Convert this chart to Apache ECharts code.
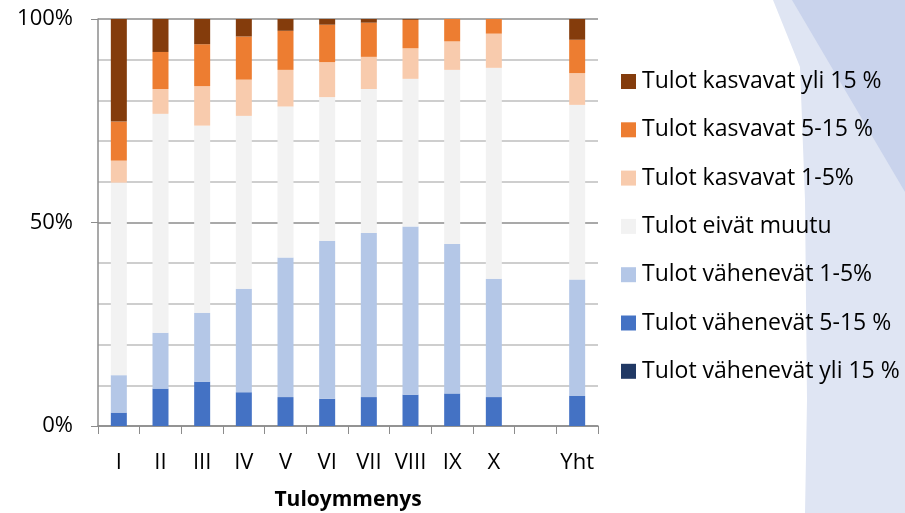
<!DOCTYPE html>
<html>
	<head>
		<meta charset="UTF-8">
		<title>Tuloymmenys</title>
		<script src="https://cdn.jsdelivr.net/npm/echarts@6/dist/echarts.min.js"></script>
		<style>
			html, body { margin: 0; padding: 0; background: #fff; }
		</style>
	</head>
	<body>
		<div id="bar" style="width:905px; height:513px;"></div>
		<script>
			var categories = ['I', 'II', 'III', 'IV', 'V', 'VI', 'VII', 'VIII', 'IX', 'X', '', 'Yht'];

			// osuudet (%) alhaalta ylos
			var vahenevatYli15 = [0, 0, 0, 0, 0, 0, 0, 0, 0, 0, null, 0];
			var vahenevat5_15 = [3.3, 9.2, 10.9, 8.3, 7.1, 6.7, 7.1, 7.7, 8.0, 7.1, null, 7.4];
			var vahenevat1_5 = [9.2, 13.7, 16.9, 25.4, 34.3, 38.8, 40.3, 41.3, 36.7, 29.1, null, 28.6];
			var eivatMuutu = [47.3, 53.8, 46.0, 42.5, 37.1, 35.3, 35.4, 36.3, 42.8, 51.8, null, 42.9];
			var kasvavat1_5 = [5.4, 6.1, 9.7, 8.9, 9.0, 8.6, 7.9, 7.5, 7.0, 8.4, null, 7.8];
			var kasvavat5_15 = [9.6, 9.1, 10.3, 10.6, 9.6, 9.2, 8.4, 7.0, 5.5, 3.6, null, 8.2];
			var kasvavatYli15 = [25.2, 8.1, 6.2, 4.3, 2.9, 1.4, 0.9, 0.2, 0, 0, null, 5.1];

			var yTicks = [0, 50, 100];

			var font = '"Open Sans", sans-serif';

			function bar(name, data, color) {
				return {
					name: name,
					type: 'bar',
					stack: 'all',
					barWidth: 16,
					data: data,
					itemStyle: { color: color }
				};
			}

			var chart = echarts.init(document.getElementById('bar'), null, { renderer: 'canvas' });

			chart.setOption({
				animation: false,
				textStyle: { fontFamily: font },
				graphic: [
					{
						type: 'polygon', z: 0, silent: true,
						shape: { points: [[773, 0], [905, 0], [905, 513], [805, 513], [807, 400], [805, 200], [800, 67]] },
						style: { fill: '#dfe5f3' }
					},
					{
						type: 'polygon', z: 0, silent: true,
						shape: { points: [[792, 0], [905, 0], [905, 192]] },
						style: { fill: '#c9d3ec' }
					}
				],
				grid: { left: 98, right: 307, top: 19, bottom: 87, containLabel: false, outerBoundsMode: 'none' },
				legend: {
					orient: 'vertical',
					left: 616,
					top: 65,
					itemWidth: 15,
					itemHeight: 15,
					itemGap: 25.3,
					icon: 'rect',
					data: ['Tulot kasvavat yli 15 %', 'Tulot kasvavat 5-15 %', 'Tulot kasvavat 1-5%',
						'Tulot eivät muutu', 'Tulot vähenevät 1-5%', 'Tulot vähenevät 5-15 %', 'Tulot vähenevät yli 15 %'],
					textStyle: { fontFamily: font, fontSize: 23, color: '#000', lineHeight: 22, padding: [0, 0, 0, 1] }
				},
				xAxis: {
					type: 'category',
					data: categories,
					name: 'Tuloymmenys',
					nameLocation: 'middle',
					nameGap: 64,
					nameTextStyle: { fontFamily: font, fontSize: 21, fontWeight: 'bold', color: '#000' },
					axisLine: { lineStyle: { color: '#8c8c8c', width: 1.5 } },
					axisTick: { show: true, interval: 0, length: 8, lineStyle: { color: '#8c8c8c' } },
					axisLabel: { interval: 0, margin: 26, fontSize: 22, color: '#000' }
				},
				yAxis: {
					type: 'value',
					min: yTicks[0],
					max: yTicks[2],
					interval: 50,
					axisLine: { show: true, lineStyle: { color: '#8c8c8c', width: 1.5 } },
					axisTick: { show: true, length: 7, lineStyle: { color: '#8c8c8c' } },
					axisLabel: { formatter: '{value}%', margin: 25, fontSize: 22, color: '#000' },
					splitLine: { lineStyle: { color: '#8c8c8c', width: 1.5 } },
					minorTick: { show: false, splitNumber: 5 },
					minorSplitLine: { show: true, lineStyle: { color: '#bfbfbf', width: 1.5 } }
				},
				series: [
					bar('Tulot vähenevät yli 15 %', vahenevatYli15, '#203864'),
					bar('Tulot vähenevät 5-15 %', vahenevat5_15, '#4472c4'),
					bar('Tulot vähenevät 1-5%', vahenevat1_5, '#b4c7e7'),
					bar('Tulot eivät muutu', eivatMuutu, '#f2f2f2'),
					bar('Tulot kasvavat 1-5%', kasvavat1_5, '#f8cbad'),
					bar('Tulot kasvavat 5-15 %', kasvavat5_15, '#ed7d31'),
					bar('Tulot kasvavat yli 15 %', kasvavatYli15, '#843c0c')
				]
			});
		</script>
	</body>
</html>
